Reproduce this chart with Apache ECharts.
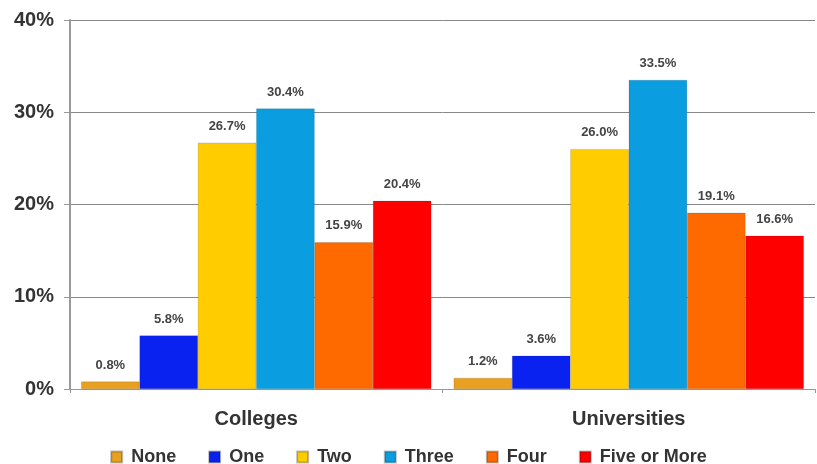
<!DOCTYPE html>
<html><head><meta charset="utf-8">
<script src="https://cdn.jsdelivr.net/npm/echarts@6/dist/echarts.min.js"></script>
<style>html,body{margin:0;padding:0;background:#fff}#c{width:817px;height:464px}</style>
</head><body><div id="c"></div>
<script>
const categories = ['Colleges', 'Universities'];
const seriesNames = ['None', 'One', 'Two', 'Three', 'Four', 'Five or More'];
const none = [0.8, 1.2];
const one = [5.8, 3.6];
const two = [26.7, 26.0];
const three = [30.4, 33.5];
const four = [15.9, 19.1];
const fiveOrMore = [20.4, 16.6];
const yTicks = [0, 10, 20, 30, 40];
const colors = ['#E8A020', '#0A22F0', '#FFCC00', '#0A9EE0', '#FF6A00', '#FF0000'];
const values = [none, one, two, three, four, fiveOrMore];

const chart = echarts.init(document.getElementById('c'));
chart.setOption({
  animation: false,
  textStyle: { fontFamily: 'Liberation Sans, Arial, sans-serif' },
  legend: {
    top: 443, left: 'center',
    itemWidth: 11, itemHeight: 11, itemGap: 32,
    icon: 'rect',
    textStyle: { fontSize: 18, fontWeight: 'bold', color: '#333', padding: [0, 0, 0, 4] },
    data: seriesNames
  },
  grid: { left: 70, right: 2, top: 20, bottom: 75, containLabel: false },
  xAxis: {
    type: 'category', data: categories,
    axisLine: { lineStyle: { color: '#999' } },
    axisTick: { show: true, alignWithLabel: false, lineStyle: { color: '#999' }, length: 4 },
    axisLabel: { fontSize: 20, fontWeight: 'bold', color: '#333', margin: 20 }
  },
  yAxis: {
    type: 'value', min: yTicks[0], max: yTicks[yTicks.length - 1], interval: 10,
    axisLine: { show: true, lineStyle: { color: '#999', width: 2 } },
    axisTick: { show: true, length: 6, lineStyle: { color: '#999' } },
    splitLine: { lineStyle: { color: '#888' } },
    axisLabel: { fontSize: 20, fontWeight: 'bold', color: '#333', margin: 16, formatter: '{value}%' }
  },
  series: seriesNames.map((n, i) => ({
    name: n, type: 'bar', data: values[i],
    barGap: '0%', barCategoryGap: '6%',
    itemStyle: { color: colors[i], borderColor: 'rgba(0,0,0,0.25)', borderWidth: 0.5 },
    label: { show: true, position: 'top', distance: 10, fontSize: 13, fontWeight: 'bold', color: '#444',
      formatter: p => p.value.toFixed(1) + '%' }
  }))
});
</script></body></html>
